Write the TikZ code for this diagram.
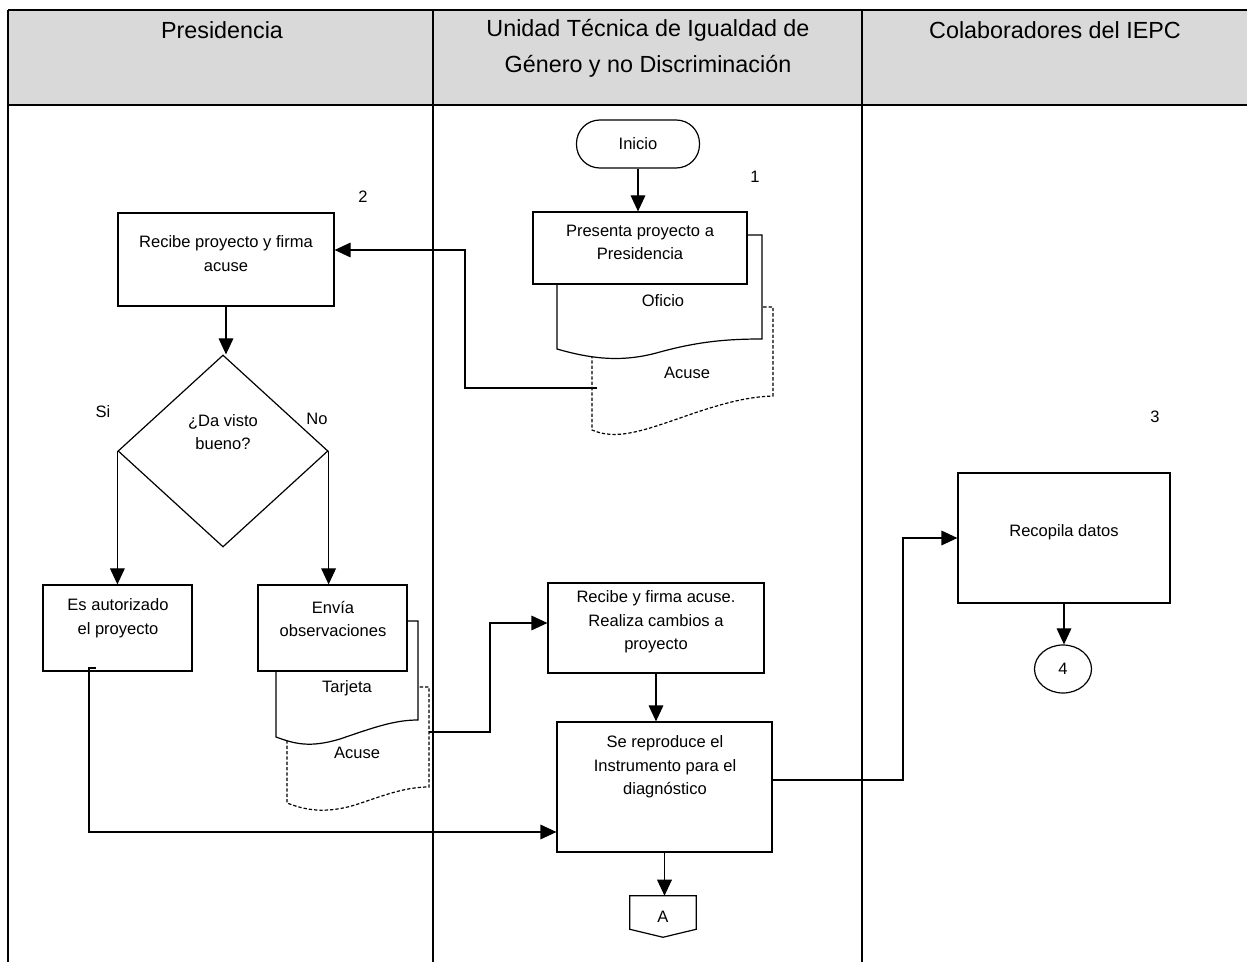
\documentclass[tikz,border=0pt]{standalone}
\usepackage{fontspec}
\setmainfont{Liberation Sans}
\usetikzlibrary{arrows.meta,shapes.geometric,fit}
\begin{document}
\begin{tikzpicture}[x=0.75pt,y=-0.75pt,
  every node/.style={font=\fontsize{12.4}{17.6}\selectfont},
  box/.style={draw, fill=white, line width=0.9pt, inner sep=0pt, align=center},
  txt/.style={align=center, inner sep=0pt},
  arr/.style={line width=0.9pt, -{Triangle[length=12pt,width=11pt]}},
  doc/.style={draw, fill=white, line width=0.9pt},
  docd/.style={draw, fill=white, line width=0.9pt, dash pattern=on 2.5pt off 1.5pt},
  lane/.style={line width=1.2pt},
  hdr/.style={align=center, inner sep=0pt, font=\fontsize{17.5}{27}\selectfont}]
\useasboundingbox (0,0) rectangle (1247,962);
% swimlanes
\fill[gray!30] (8,10) rectangle (1247,105);
\draw[lane] (8,10) -- (1247,10);
\draw[lane] (8,105) -- (1247,105);
\draw[lane] (8,10) -- (8,962);
\draw[lane] (433,10) -- (433,962);
\draw[lane] (862,10) -- (862,962);
\node[hdr] (h1) at (222,30) {Presidencia};
\node[hdr] (h2) at (648,48) {Unidad Técnica de Igualdad de\\Género y no Discriminación};
\node[hdr] (h3) at (1055,30) {Colaboradores del IEPC};
% numbers
\node[txt] (n1) at (755,177) {1};
\node[txt] (n2) at (363,197) {2};
\node[txt] (n3) at (1155,417) {3};
% start
\node[box, rounded corners=17.5pt, minimum width=123*0.75pt, minimum height=48*0.75pt] (ini) at (638,144) {Inicio};
% documents of step 1
\draw[docd] (592,307) -- (592,430) .. controls (615,440) and (640,432) .. (680,418) .. controls (720,404) and (745,397) .. (773,396) -- (773,307) -- cycle;
\draw[doc] (557,235) -- (557,349) .. controls (595,360) and (625,362) .. (660,352) .. controls (700,341) and (730,339) .. (762,339) -- (762,235) -- cycle;
\node[box, fit={(533,212) (747,284)}] (pre) {Presenta proyecto a\\Presidencia};
\node[txt] (of) at (663,301) {Oficio};
\node[txt] (ac1) at (687,373) {Acuse};
\coordinate (a1) at (597,388);
% Presidencia
\node[box, fit={(118,213) (334,306)}] (rec) {Recibe proyecto y firma\\acuse};
\node[draw, diamond, line width=0.9pt, inner sep=0pt, minimum width=210*0.75pt, minimum height=192*0.75pt] (dia) at (223,451) {};
\node[txt] (dia-t) at (223,432) {¿Da visto\\bueno?};
\node[txt] (si) at (103,412) {Si};
\node[txt] (no) at (317,419) {No};
\node[box, fit={(43,585) (192,671)}] (aut) {};
\node[txt] (aut-t) at (118,618) {Es autorizado\\el proyecto};
% documents of observations
\draw[docd] (287,687) -- (287,803) .. controls (305,810) and (325,814) .. (355,805) .. controls (385,795) and (405,787) .. (429,787) -- (429,687) -- cycle;
\draw[doc] (276,621) -- (276,737) .. controls (295,744) and (310,748) .. (340,739) .. controls (375,727) and (395,720) .. (418,720) -- (418,621) -- cycle;
\node[box, fit={(258,585) (407,671)}] (env) {};
\node[txt] (env-t) at (333,619) {Envía\\observaciones};
\node[txt] (tar) at (347,688) {Tarjeta};
\node[txt] (ac2) at (357,753) {Acuse};
\coordinate (a2) at (429,732);
% Unidad Tecnica
\node[box, fit={(548,583) (764,673)}] (ryf) {Recibe y firma acuse.\\Realiza cambios a\\proyecto};
\node[box, fit={(557,722) (772,852)}] (se) {};
\node[txt] (se-t) at (665,767) {Se reproduce el\\Instrumento para el\\diagnóstico};
\node[inner sep=0pt, minimum width=66*0.75pt, minimum height=41*0.75pt] (A) at (663,916.5) {A};
\draw[line width=0.9pt] (A.north west) -- (A.north east) -- ([yshift=6pt]A.south east) -- (A.south) -- ([yshift=6pt]A.south west) -- cycle;
% Colaboradores
\node[box, fit={(958,473) (1170,603)}] (rd) {Recopila datos};
\node[draw, ellipse, line width=0.9pt, inner sep=0pt, minimum width=57*0.75pt, minimum height=48*0.75pt] (c4) at (1063,669) {4};
% connectors
\draw[arr] (ini.south) -- (ini.south |- pre.north);
\coordinate (k1) at (465,250);
\draw[arr] (a1) -- (465,388) -- (k1) -- (rec.east |- k1);
\draw[arr] (rec.south) -- (rec.south |- dia.north);
\draw[arr] (dia.west) -- (dia.west |- aut.north);
\draw[arr] (dia.east) -- (dia.east |- env.north);
\coordinate (b1) at (96,668);
\coordinate (b2) at (89,832);
\draw[arr] (b1) -- (89,668) -- (b2) -- (se.west |- b2);
\coordinate (k2) at (490,623);
\draw[arr] (a2) -- (490,732) -- (k2) -- (ryf.west |- k2);
\draw[arr] (ryf.south) -- (ryf.south |- se.north);
\coordinate (k3) at (903,780);
\draw[arr] (se.east |- k3) -- (k3) |- (rd.west);
\draw[arr] (se.south) -- (se.south |- A.north);
\draw[arr] (rd.south) -- (rd.south |- c4.north);
\end{tikzpicture}
\end{document}
